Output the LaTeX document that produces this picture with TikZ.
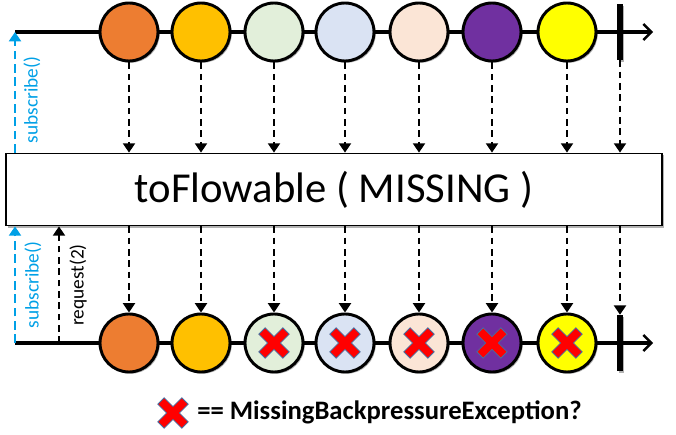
\documentclass[tikz,border=0pt]{standalone}
\usepackage{fontspec}
\setmainfont{Carlito}
\usetikzlibrary{arrows.meta,shadows}
\definecolor{mOrange}{RGB}{237,125,49}
\definecolor{mGold}{RGB}{255,192,0}
\definecolor{mGreen}{RGB}{226,239,218}
\definecolor{mBlue}{RGB}{218,227,243}
\definecolor{mPeach}{RGB}{251,229,214}
\definecolor{mPurple}{RGB}{112,48,160}
\definecolor{mYellow}{RGB}{255,255,0}
\definecolor{subBlue}{RGB}{0,160,230}
\definecolor{crossEdge}{RGB}{70,110,160}
\tikzset{
  axis/.style={line width=2.4pt,-{Straight Barb[length=6pt,width=12pt,line width=1.8pt]}},
  softshadow/.style={drop shadow={shadow xshift=1.3pt,shadow yshift=-1.3pt,opacity=0.3,fill=black}},
  marble/.style={circle,draw=black,line width=2.2pt,minimum size=43.5pt,inner sep=0pt,softshadow},
  stopbar/.style={rectangle,fill=black,minimum width=3.8pt,minimum height=42pt,inner sep=0pt,softshadow},
  opbox/.style={rectangle,draw=black,line width=0.8pt,fill=white,minimum width=492pt,minimum height=54.5pt,
    inner sep=0pt,font=\fontsize{32}{36}\selectfont,softshadow},
  emit/.style={line width=1.5pt,dash pattern=on 5pt off 3.5pt,-{Triangle[length=7pt,width=9pt]}},
  subscribe/.style={subBlue,line width=1.5pt,dash pattern=on 6.5pt off 3.5pt,-{Triangle[length=7pt,width=9pt]}},
  request/.style={black,line width=1.5pt,dash pattern=on 5pt off 3.5pt,-{Triangle[length=7pt,width=9pt]}},
  sublabel/.style={subBlue,font=\fontsize{14.5}{16}\selectfont,inner sep=0pt},
  reqlabel/.style={black,font=\fontsize{14.5}{16}\selectfont,inner sep=0pt},
  legend/.style={font=\fontsize{20}{24}\selectfont\bfseries,inner sep=0pt},
  crossmark/.pic={\draw[crossEdge,fill=red,line width=0.6pt,rotate=45]
    (-4.5,-17) -- (4.5,-17) -- (4.5,-4.5) -- (17,-4.5) -- (17,4.5) -- (4.5,4.5) -- (4.5,17)
    -- (-4.5,17) -- (-4.5,4.5) -- (-17,4.5) -- (-17,-4.5) -- (-4.5,-4.5) -- cycle;}
}
\begin{document}
\begin{tikzpicture}[x=0.75pt,y=-0.75pt]
\useasboundingbox (0,0) rectangle (676,435);
% Zeitachsen
\coordinate (ts) at (15,32);
\coordinate (te) at (653,32);
\coordinate (bs) at (15,343);
\coordinate (be) at (653,343);
\coordinate (rq) at (59,343);
\draw[axis] (ts) -- (te);
\draw[axis] (bs) -- (be);
% Murmeln oben
\node[marble,fill=mOrange] (t1) at (129,32) {};
\node[marble,fill=mGold] (t2) at (201,32) {};
\node[marble,fill=mGreen] (t3) at (274,32) {};
\node[marble,fill=mBlue] (t4) at (345,32) {};
\node[marble,fill=mPeach] (t5) at (419,32) {};
\node[marble,fill=mPurple] (t6) at (492,32) {};
\node[marble,fill=mYellow] (t7) at (567,32) {};
\node[stopbar] (tend) at (620,32) {};
% Operator
\node[opbox] (op) at (334,189.5) {toFlowable ( MISSING )};
% Murmeln unten
\node[marble,fill=mOrange] (b1) at (129,343) {};
\node[marble,fill=mGold] (b2) at (201,343) {};
\node[marble,fill=mGreen] (b3) at (274,343) {};
\node[marble,fill=mBlue] (b4) at (345,343) {};
\node[marble,fill=mPeach] (b5) at (419,343) {};
\node[marble,fill=mPurple] (b6) at (492,343) {};
\node[marble,fill=mYellow] (b7) at (567,343) {};
\node[stopbar] (bend) at (620,343) {};
\foreach \m in {b3,b4,b5,b6,b7}
  \pic at (\m) {crossmark};
% Pfeile
\foreach \m in {t1,t2,t3,t4,t5,t6,t7,tend}
  \draw[emit] (\m) -- (\m |- op.north);
\foreach \m in {b1,b2,b3,b4,b5,b6,b7,bend}
  \draw[emit] (\m |- op.south) -- (\m);
\draw[subscribe] (ts |- op.north) -- (ts);
\draw[subscribe] (bs) -- (bs |- op.south);
\draw[request] (rq) -- (rq |- op.south);
% Beschriftungen
\node[sublabel,rotate=90] (lsubt) at (32,100) {subscribe()};
\node[sublabel,rotate=90] (lsubb) at (33,285) {subscribe()};
\node[reqlabel,rotate=90] (lreq) at (78,285) {request(2)};
% Legende
\pic at (173,413) {crossmark};
\node[legend,anchor=west] (leg) at (197,412) {== MissingBackpressureException?};
\end{tikzpicture}
\end{document}
